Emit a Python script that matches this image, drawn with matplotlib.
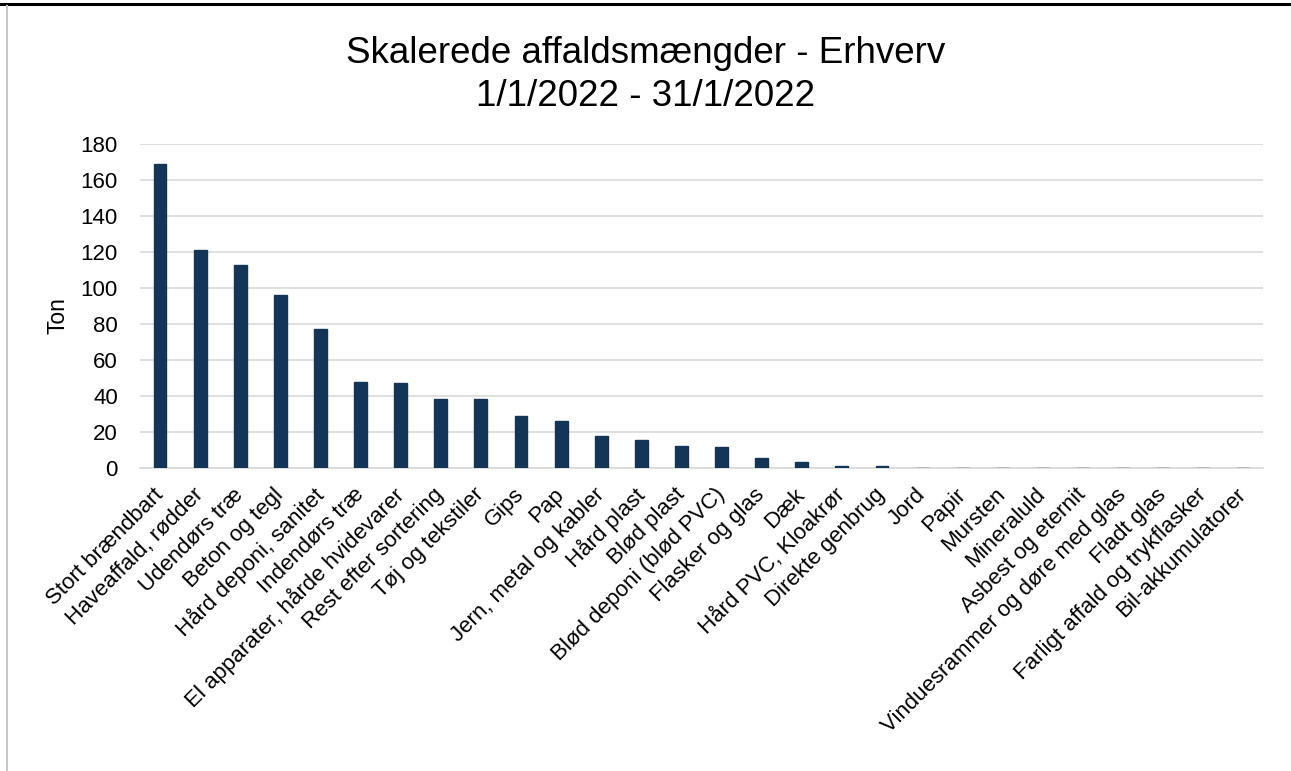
import numpy as np
import matplotlib
matplotlib.use("Agg")
import matplotlib.pyplot as plt
from matplotlib.lines import Line2D

plt.rcParams['font.family'] = ['Liberation Sans', 'DejaVu Sans']

categories = [
    "Stort brændbart", "Haveaffald, rødder", "Udendørs træ", "Beton og tegl",
    "Hård deponi, sanitet", "Indendørs træ", "El apparater, hårde hvidevarer",
    "Rest efter sortering", "Tøj og tekstiler", "Gips", "Pap",
    "Jern, metal og kabler", "Hård plast", "Blød plast", "Blød deponi (blød PVC)",
    "Flasker og glas", "Dæk", "Hård PVC, Kloakrør", "Direkte genbrug", "Jord",
    "Papir", "Mursten", "Mineraluld", "Asbest og eternit",
    "Vinduesrammer og døre med glas", "Fladt glas", "Farligt affald og trykflasker",
    "Bil-akkumulatorer",
]
tons = [168.9, 120.9, 112.8, 96.3, 77.0, 47.9, 47.4, 38.3, 38.3, 28.7, 26.0,
        17.6, 15.3, 12.3, 11.7, 5.4, 3.5, 1.1, 1.0, 0, 0, 0, 0, 0, 0, 0, 0, 0]
yticks = [0, 20, 40, 60, 80, 100, 120, 140, 160, 180]

fig = plt.figure(figsize=(12.91, 7.71), dpi=100)
ax = fig.add_axes([140/1291, 1-468/771, 1123/1291, 324/771])

x = np.arange(len(categories))
ax.bar(x, tons, width=0.32, color='#123558', edgecolor='#123558', zorder=3)

ax.set_xlim(-0.5, len(categories)-0.5)
ax.set_ylim(0, 180)
ax.set_yticks(yticks)
ax.yaxis.grid(True, color='#d9d9d9', linewidth=1.2, zorder=0)
ax.set_axisbelow(True)
for s in ['top', 'right', 'left']:
    ax.spines[s].set_visible(False)
ax.spines['bottom'].set_color('#d9d9d9')
ax.spines['bottom'].set_linewidth(1.2)
ax.tick_params(axis='both', length=0, labelsize=16)
ax.tick_params(axis='y', pad=16)
ax.tick_params(axis='x', pad=17)
ax.set_xticks(x)
ax.set_xticklabels(categories, rotation=45, ha='right', va='center',
                   rotation_mode='anchor')
ax.set_ylabel("Ton", fontsize=16.5)
ax.yaxis.set_label_coords(-0.063, 0.47)

fig.text(0.5, 1-75/771, "Skalerede affaldsmængder - Erhverv\n1/1/2022 - 31/1/2022",
         ha='center', va='center', fontsize=26.5, linespacing=1.32)

# screenshot frame
fig.add_artist(Line2D([0, 1], [1-3.5/771, 1-3.5/771], color='black', linewidth=2.2))
fig.add_artist(Line2D([7/1291, 7/1291], [0, 1-6/771], color='#c8c8c8', linewidth=1.5))

fig.savefig("out.png", dpi=100)
